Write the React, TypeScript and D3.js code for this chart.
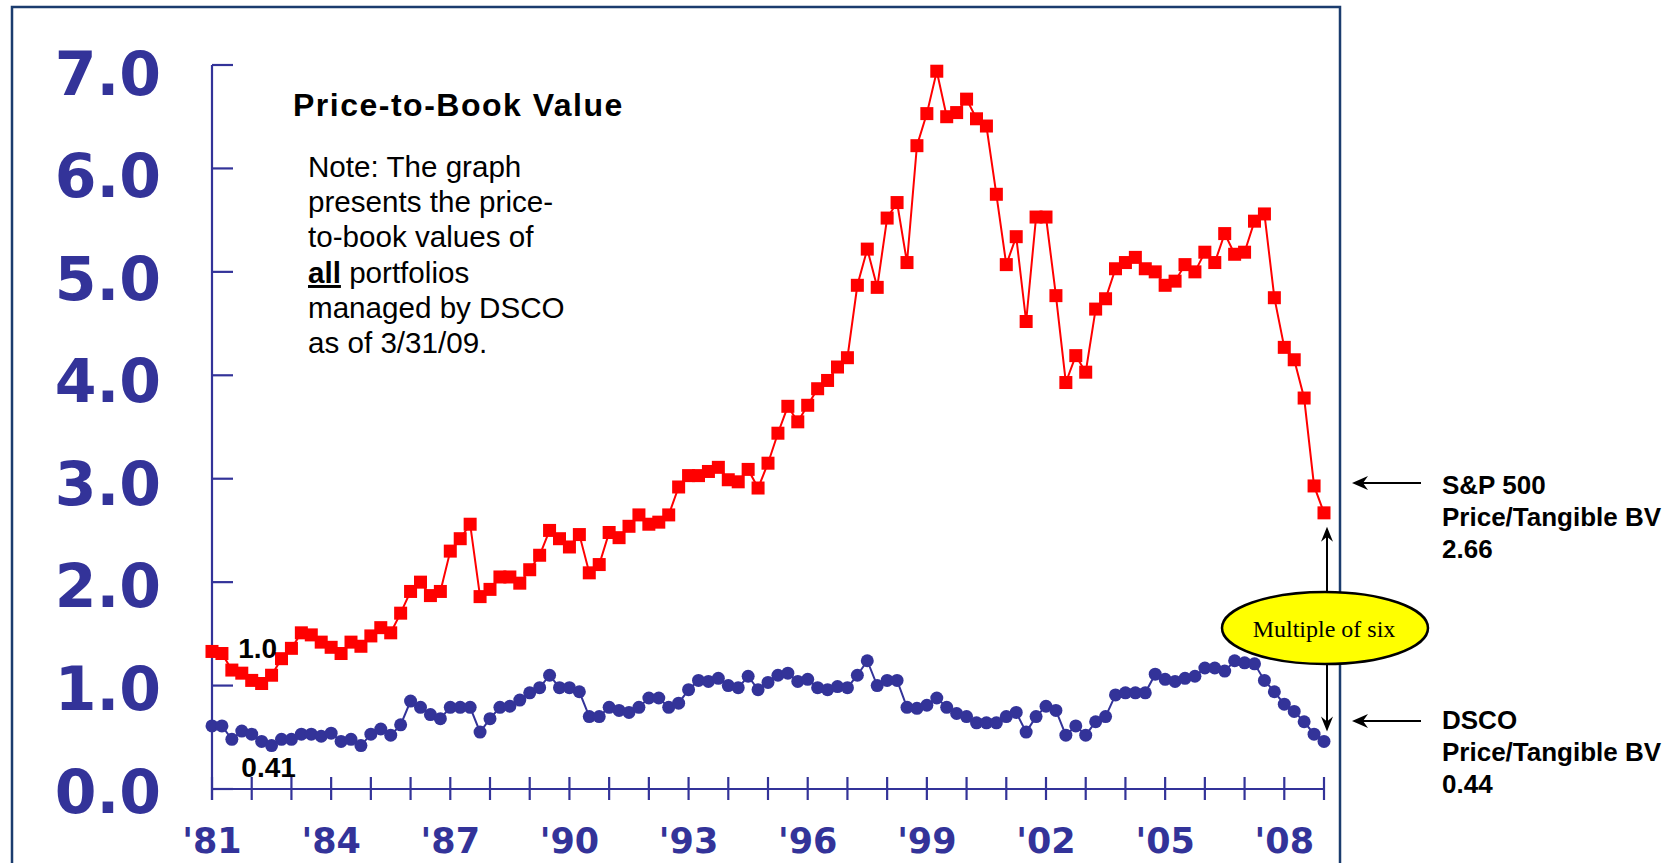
import * as d3 from 'd3';

// quarterly readings, 1981 Q1 .. 2009 Q1
const START_YEAR = 1981;

const sp500PriceToBook = [
  1.33, 1.31, 1.15, 1.12, 1.05, 1.02, 1.10, 1.26, 1.36, 1.51, 1.49, 1.42, 1.37, 1.31, 1.42, 1.38,
  1.48, 1.56, 1.51, 1.70, 1.91, 2.00, 1.87, 1.91, 2.30, 2.42, 2.56, 1.86, 1.93, 2.05, 2.05, 1.99,
  2.12, 2.26, 2.50, 2.42, 2.34, 2.46, 2.09, 2.17, 2.48, 2.43, 2.54, 2.65, 2.56, 2.58, 2.65, 2.92,
  3.03, 3.03, 3.07, 3.11, 2.99, 2.97, 3.09, 2.91, 3.15, 3.44, 3.70, 3.55, 3.71, 3.87, 3.95, 4.08,
  4.17, 4.87, 5.22, 4.85, 5.52, 5.67, 5.09, 6.22, 6.53, 6.94, 6.50, 6.54, 6.67, 6.48, 6.41, 5.75,
  5.07, 5.34, 4.52, 5.53, 5.53, 4.77, 3.93, 4.19, 4.03, 4.64, 4.74, 5.03, 5.09, 5.14, 5.03, 5.00,
  4.87, 4.91, 5.07, 5.00, 5.19, 5.09, 5.37, 5.17, 5.19, 5.49, 5.56, 4.75, 4.27, 4.15, 3.78, 2.93,
  2.67,
];

const dscoPriceToBook = [
  0.61, 0.61, 0.48, 0.56, 0.53, 0.46, 0.42, 0.48, 0.48, 0.53, 0.53, 0.51, 0.54, 0.46, 0.48, 0.42,
  0.53, 0.58, 0.52, 0.62, 0.85, 0.79, 0.72, 0.68, 0.79, 0.79, 0.79, 0.55, 0.68, 0.79, 0.80, 0.86,
  0.93, 0.98, 1.10, 0.98, 0.98, 0.94, 0.70, 0.70, 0.79, 0.76, 0.74, 0.79, 0.88, 0.88, 0.79, 0.83,
  0.96, 1.05, 1.04, 1.07, 1.00, 0.98, 1.09, 0.96, 1.03, 1.10, 1.12, 1.04, 1.06, 0.98, 0.96, 0.99,
  0.98, 1.10, 1.24, 1.00, 1.05, 1.05, 0.79, 0.78, 0.81, 0.88, 0.79, 0.73, 0.70, 0.64, 0.64, 0.64,
  0.70, 0.74, 0.55, 0.70, 0.80, 0.76, 0.52, 0.61, 0.52, 0.65, 0.70, 0.91, 0.93, 0.93, 0.93, 1.11,
  1.06, 1.04, 1.07, 1.09, 1.17, 1.17, 1.14, 1.24, 1.22, 1.21, 1.05, 0.94, 0.82, 0.75, 0.65, 0.53,
  0.46,
];

const yTicks = [0, 1, 2, 3, 4, 5, 6, 7];
const yearTicks = d3.range(1981, 2010);
const yearLabels = [
  { year: 1981, label: "'81" }, { year: 1984, label: "'84" }, { year: 1987, label: "'87" },
  { year: 1990, label: "'90" }, { year: 1993, label: "'93" }, { year: 1996, label: "'96" },
  { year: 1999, label: "'99" }, { year: 2002, label: "'02" }, { year: 2005, label: "'05" },
  { year: 2008, label: "'08" },
];

const spLabel = ['S&P 500', 'Price/Tangible BV', '2.66'];
const dscoLabel = ['DSCO', 'Price/Tangible BV', '0.44'];

const W = 1680;
const H = 863;
const AXIS = '#333399';
const RED = '#ff0000';
const FRAME = '#1b3c6e';

function ArrowLeft({ x1, x2, y }: { x1: number; x2: number; y: number }) {
  // line from x1 (tail) to x2 (tip), pointing left
  return <g>
    <line x1={x1} y1={y} x2={x2 + 4} y2={y} stroke='#000' strokeWidth={2} />
    <path d={`M${x2},${y} L${x2 + 16},${y - 7} L${x2 + 11},${y} L${x2 + 16},${y + 7} Z`} fill='#000' />
  </g>;
}

function ArrowVert({ x, y1, y2 }: { x: number; y1: number; y2: number }) {
  // tail y1, tip y2
  const dir = y2 < y1 ? 1 : -1;
  return <g>
    <line x1={x} y1={y1} x2={x} y2={y2 + dir * 4} stroke='#000' strokeWidth={2} />
    <path d={`M${x},${y2} L${x - 6},${y2 + dir * 15} L${x},${y2 + dir * 10} L${x + 6},${y2 + dir * 15} Z`} fill='#000' />
  </g>;
}

export default function App() {
  const x = d3.scaleLinear().domain([1981, 2009]).range([212, 1324]);
  const y = d3.scaleLinear().domain([0, 7]).range([789, 65]);
  const yLabelPos = d3.scaleLinear().domain([0, 7]).range([791, 73]);

  const dateOf = (i: number) => START_YEAR + i / 4;
  const line = d3.line<number>()
    .x((_, i) => x(dateOf(i)))
    .y(d => y(d));

  const last = sp500PriceToBook.length - 1;
  const lastX = x(dateOf(last));
  const spLastY = y(sp500PriceToBook[last]);
  const dsLastY = y(dscoPriceToBook[last]);
  const redMin = d3.minIndex(sp500PriceToBook.slice(0, 12));
  const blueMin = d3.minIndex(dscoPriceToBook.slice(0, 12));

  const ell = { cx: 1325, cy: 628, rx: 103, ry: 36 };

  return (
    <svg width={W} height={H} style={{ position: 'absolute', left: 0, top: 0, background: '#fff' }}>
      <rect x={0} y={0} width={W} height={H} fill='#fff' />
      {/* slide frame */}
      <rect x={12} y={7} width={1328} height={900} fill='none' stroke={FRAME} strokeWidth={2.5} />

      {/* y axis */}
      <line x1={212} x2={212} y1={y(7)} y2={y(0) + 11} stroke={AXIS} strokeWidth={2.2} />
      {yTicks.map(t => (
        <line key={t} x1={212} x2={233} y1={y(t)} y2={y(t)} stroke={AXIS} strokeWidth={2.2} />
      ))}
      {yTicks.map(t => (
        <text key={'l' + t} x={161} y={yLabelPos(t)} dy='0.36em' textAnchor='end'
          fontFamily='DejaVu Sans' fontWeight='bold' fontSize={60} fill={AXIS}>{t.toFixed(1)}</text>
      ))}

      {/* x axis */}
      <line x1={212} x2={x(2009)} y1={y(0)} y2={y(0)} stroke={AXIS} strokeWidth={2.2} />
      {yearTicks.map(t => (
        <line key={t} x1={x(t)} x2={x(t)} y1={y(0) - 12} y2={y(0) + 11} stroke={AXIS} strokeWidth={2.2} />
      ))}
      {yearLabels.map(d => (
        <text key={d.label} x={x(d.year)} y={853} textAnchor='middle'
          fontFamily='DejaVu Sans' fontWeight='bold' fontSize={35} fill={AXIS}>{d.label}</text>
      ))}

      {/* title and note */}
      <text x={293} y={116} fontFamily='Liberation Sans, Arial' fontWeight='bold' fontSize={32}
        letterSpacing={1.5} fill='#000'>Price-to-Book Value</text>
      <g fontFamily='Liberation Sans, Arial' fontSize={29.6} fill='#000'>
        <text x={308} y={177}>Note: The graph</text>
        <text x={308} y={212}>presents the price-</text>
        <text x={308} y={247}>to-book values of</text>
        <text x={308} y={283}><tspan fontWeight='bold' textDecoration='underline'>all</tspan> portfolios</text>
        <text x={308} y={318}>managed by DSCO</text>
        <text x={308} y={353}>as of 3/31/09.</text>
      </g>

      {/* series */}
      <path d={line(sp500PriceToBook) || ''} fill='none' stroke={RED} strokeWidth={2} />
      {sp500PriceToBook.map((v, i) => (
        <rect key={'s' + i} x={x(dateOf(i)) - 6.5} y={y(v) - 6.5} width={13} height={13} fill={RED} />
      ))}
      <path d={line(dscoPriceToBook) || ''} fill='none' stroke={AXIS} strokeWidth={2} />
      {dscoPriceToBook.map((v, i) => (
        <circle key={'d' + i} cx={x(dateOf(i))} cy={y(v)} r={6.5} fill={AXIS} />
      ))}

      {/* low-point labels */}
      <text x={x(dateOf(redMin)) - 4} y={y(sp500PriceToBook[redMin]) - 26} textAnchor='middle'
        fontFamily='Liberation Sans, Arial' fontWeight='bold' fontSize={28} fill='#000'>1.0</text>
      <text x={x(dateOf(blueMin)) - 3} y={y(dscoPriceToBook[blueMin]) + 31} textAnchor='middle'
        fontFamily='Liberation Sans, Arial' fontWeight='bold' fontSize={28} fill='#000'>0.41</text>

      {/* multiple of six callout */}
      <ArrowVert x={lastX + 3} y1={ell.cy - ell.ry} y2={spLastY + 14} />
      <ArrowVert x={lastX + 3} y1={ell.cy + ell.ry} y2={dsLastY - 10} />
      <ellipse cx={ell.cx} cy={ell.cy} rx={ell.rx} ry={ell.ry} fill='#ffff00' stroke='#000' strokeWidth={2.5} />
      <text x={ell.cx - 1} y={ell.cy + 9} textAnchor='middle' fontFamily='Liberation Serif, Times New Roman'
        fontSize={24} fill='#000'>Multiple of six</text>

      {/* right-hand annotations */}
      <ArrowLeft x1={1421} x2={1352} y={483} />
      <ArrowLeft x1={1421} x2={1352} y={721} />
      <g fontFamily='Liberation Sans, Arial' fontWeight='bold' fontSize={26} fill='#000'>
        {spLabel.map((s, i) => <text key={s} x={1442} y={494 + i * 32}>{s}</text>)}
        {dscoLabel.map((s, i) => <text key={'d' + s} x={1442} y={729 + i * 32}>{s}</text>)}
      </g>
    </svg>
  );
}
